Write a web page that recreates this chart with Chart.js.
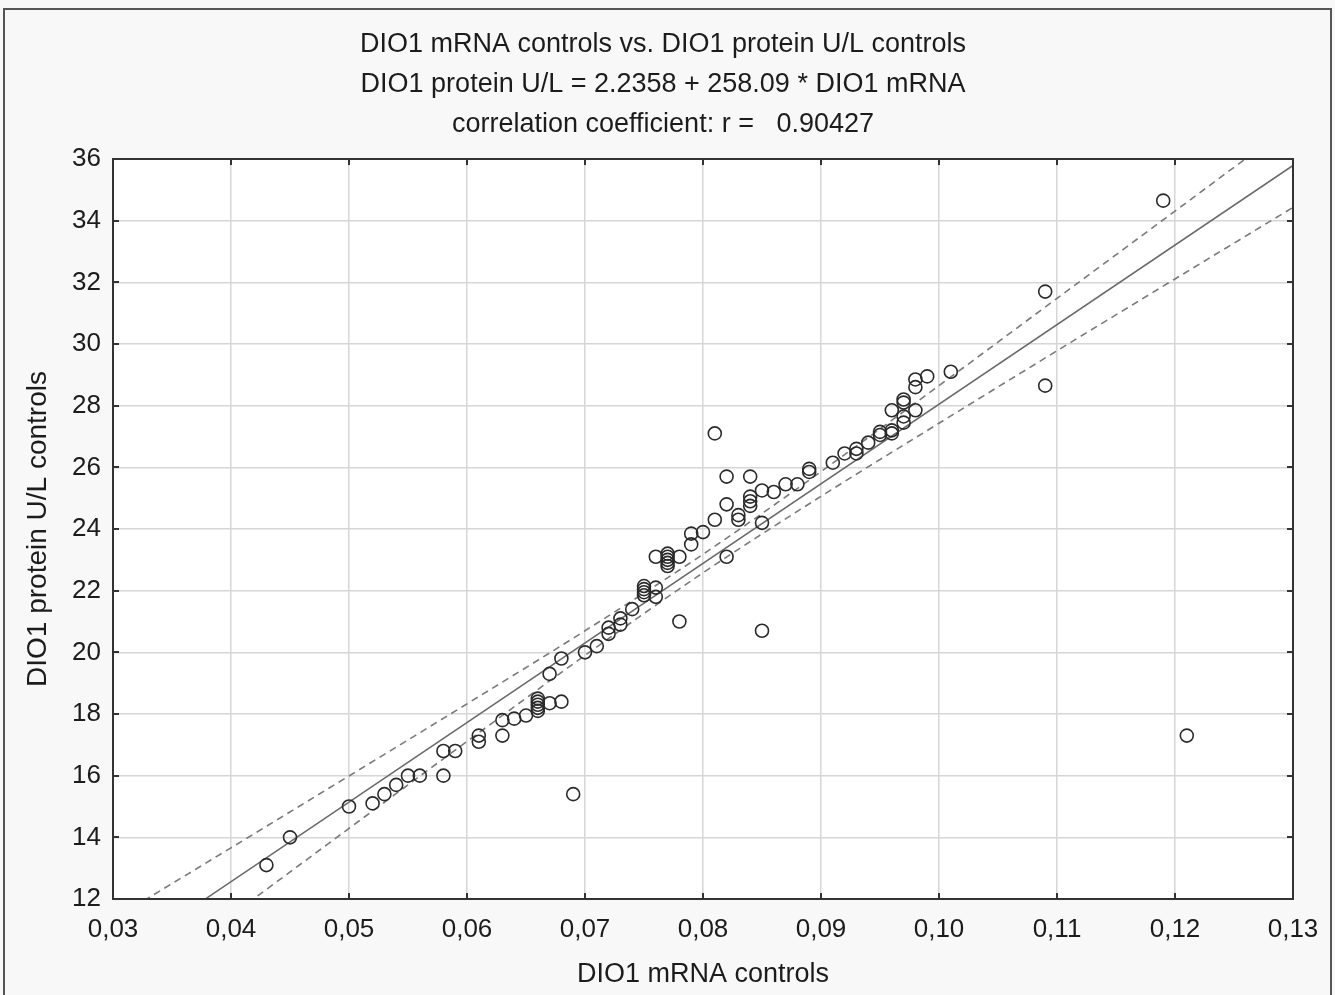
<!DOCTYPE html>
<html>
<head>
<meta charset="utf-8">
<title>DIO1 mRNA controls vs. DIO1 protein U/L controls</title>
<script src="https://cdn.jsdelivr.net/npm/chart.js@4/dist/chart.umd.min.js"></script>
<style>
  html, body { margin: 0; padding: 0; background: #f8f8f8; }
  #wrap { width: 1335px; height: 995px; }
</style>
</head>
<body>
<div id="wrap"><canvas id="dio1chart" width="1335" height="995"></canvas></div>
<script>
// title lines
const titleLines = [
  "DIO1 mRNA controls vs. DIO1 protein U/L controls",
  "DIO1 protein U/L = 2.2358 + 258.09 * DIO1 mRNA",
  "correlation coefficient: r =   0.90427",
];

const mrna = [
  0.043, 0.045, 0.050, 0.052, 0.053, 0.054, 0.055, 0.056, 0.058, 0.058,
  0.059, 0.061, 0.061, 0.063, 0.063, 0.064, 0.065, 0.066, 0.066, 0.066,
  0.066, 0.066, 0.067, 0.068, 0.067, 0.068, 0.069, 0.070, 0.071, 0.072,
  0.072, 0.073, 0.073, 0.074, 0.075, 0.075, 0.075, 0.075, 0.076, 0.076,
  0.076, 0.077, 0.077, 0.077, 0.077, 0.077, 0.078, 0.078, 0.079, 0.079,
  0.080, 0.081, 0.081, 0.082, 0.082, 0.082, 0.083, 0.083, 0.084, 0.084,
  0.084, 0.084, 0.085, 0.085, 0.085, 0.086, 0.087, 0.088, 0.089, 0.089,
  0.091, 0.092, 0.093, 0.093, 0.094, 0.095, 0.095, 0.096, 0.096, 0.096,
  0.097, 0.097, 0.097, 0.097, 0.098, 0.098, 0.098, 0.099, 0.101, 0.109,
  0.109, 0.119, 0.121,
];
const protein = [
  13.1, 14.0, 15.0, 15.1, 15.4, 15.7, 16.0, 16.0, 16.0, 16.8,
  16.8, 17.1, 17.3, 17.3, 17.8, 17.85, 17.95, 18.1, 18.2, 18.3,
  18.4, 18.5, 18.35, 18.4, 19.3, 19.8, 15.4, 20.0, 20.2, 20.6,
  20.8, 20.9, 21.1, 21.4, 21.85, 21.95, 22.05, 22.15, 22.1, 21.8,
  23.1, 22.8, 22.9, 23.0, 23.1, 23.2, 23.1, 21.0, 23.5, 23.85,
  23.9, 24.3, 27.1, 25.7, 24.8, 23.1, 24.45, 24.3, 25.7, 24.75,
  24.9, 25.05, 25.25, 24.2, 20.7, 25.2, 25.45, 25.45, 25.95, 25.85,
  26.15, 26.45, 26.6, 26.45, 26.8, 27.15, 27.05, 27.2, 27.85, 27.1,
  28.2, 28.1, 27.65, 27.45, 27.85, 28.6, 28.85, 28.95, 29.1, 31.7,
  28.65, 34.65, 17.3,
];

// regression line ends (from the equation in the title)
const fitX = [0.03, 0.13];
const fitY = [9.98, 35.79];

// 95% confidence band, read at each grid column
const bandX = [0.03, 0.04, 0.05, 0.06, 0.07, 0.08, 0.09, 0.10, 0.11, 0.12, 0.13];
const bandUpper = [11.34, 13.66, 15.99, 18.33, 20.70, 23.18, 25.86, 28.65, 31.48, 34.31, 37.15];
const bandLower = [8.62, 11.46, 14.29, 17.11, 19.90, 22.58, 25.06, 27.43, 29.78, 32.11, 34.43];

const FONT = '"Liberation Sans", Arial, sans-serif';
const ink = "#1c1c1c";

const toXY = (xs, ys) => xs.map((x, i) => ({ x: x, y: ys[i] }));

const framePlugin = {
  id: "frame",
  beforeDraw(chart) {
    const { ctx, chartArea: a } = chart;
    ctx.save();
    ctx.fillStyle = "#f8f8f8";
    ctx.fillRect(0, 0, chart.width, chart.height);
    ctx.fillStyle = "#ffffff";
    ctx.fillRect(a.left, a.top, a.right - a.left, a.bottom - a.top);
    ctx.strokeStyle = "#555";
    ctx.lineWidth = 2;
    ctx.strokeRect(4, 9, chart.width - 8, chart.height + 20);
    ctx.fillStyle = ink;
    ctx.font = "27px " + FONT;
    ctx.textAlign = "center";
    ctx.textBaseline = "middle";
    titleLines.forEach((t, i) => ctx.fillText(t, 663, 45 + i * 40));
    ctx.restore();
  },
  afterDraw(chart) {
    const { ctx, chartArea: a, scales } = chart;
    ctx.save();
    ctx.strokeStyle = "#333";
    ctx.lineWidth = 2;
    ctx.strokeRect(a.left, a.top, a.right - a.left, a.bottom - a.top);
    ctx.beginPath();
    scales.x.ticks.forEach((t) => {
      const px = Math.round(scales.x.getPixelForValue(t.value));
      ctx.moveTo(px, a.top); ctx.lineTo(px, a.top + 6);
      ctx.moveTo(px, a.bottom); ctx.lineTo(px, a.bottom - 6);
    });
    scales.y.ticks.forEach((t) => {
      const py = Math.round(scales.y.getPixelForValue(t.value));
      ctx.moveTo(a.left, py); ctx.lineTo(a.left + 6, py);
      ctx.moveTo(a.right, py); ctx.lineTo(a.right - 6, py);
    });
    ctx.stroke();
    ctx.restore();
  },
};

new Chart(document.getElementById("dio1chart"), {
  type: "scatter",
  data: {
    datasets: [
      {
        label: "controls",
        data: toXY(mrna, protein),
        pointStyle: "circle",
        pointRadius: 6.5,
        pointBorderWidth: 1.6,
        pointBorderColor: "#2a2a2a",
        pointBackgroundColor: "rgba(0,0,0,0)",
      },
      {
        label: "fit",
        type: "line",
        data: toXY(fitX, fitY),
        borderColor: "#6a6a6a",
        borderWidth: 1.5,
        pointRadius: 0,
        fill: false,
      },
      {
        label: "upper 95%",
        type: "line",
        data: toXY(bandX, bandUpper),
        borderColor: "#7a7a7a",
        borderWidth: 1.6,
        borderDash: [7, 5],
        pointRadius: 0,
        fill: false,
        cubicInterpolationMode: "monotone",
      },
      {
        label: "lower 95%",
        type: "line",
        data: toXY(bandX, bandLower),
        borderColor: "#7a7a7a",
        borderWidth: 1.6,
        borderDash: [7, 5],
        pointRadius: 0,
        fill: false,
        cubicInterpolationMode: "monotone",
      },
    ],
  },
  options: {
    responsive: false,
    animation: false,
    devicePixelRatio: 1,
    layout: { padding: { left: 10, right: 42, top: 159, bottom: 0 } },
    plugins: {
      legend: { display: false },
      tooltip: { enabled: false },
      title: { display: false },
    },
    scales: {
      x: {
        type: "linear",
        min: 0.03,
        max: 0.13,
        afterFit: (s) => { s.height = 96; },
        ticks: {
          stepSize: 0.01,
          padding: 15,
          color: ink,
          font: { family: FONT, size: 26 },
          callback: (v) => v.toFixed(2).replace(".", ","),
        },
        grid: { color: "#d6d6d6", lineWidth: 1.5, drawTicks: false },
        border: { display: false },
        title: {
          display: true,
          text: "DIO1 mRNA controls",
          color: ink,
          font: { family: FONT, size: 27 },
          padding: { top: 0, bottom: 4 },
        },
      },
      y: {
        type: "linear",
        min: 12,
        max: 36,
        afterFit: (s) => { s.width = 103; },
        ticks: {
          stepSize: 2,
          padding: 12,
          color: ink,
          font: { family: FONT, size: 26 },
        },
        grid: { color: "#d6d6d6", lineWidth: 1.5, drawTicks: false },
        border: { display: false },
        title: {
          display: true,
          text: "DIO1 protein U/L controls",
          color: ink,
          font: { family: FONT, size: 28 },
          padding: { top: 11, bottom: 0 },
        },
      },
    },
  },
  plugins: [framePlugin],
});
</script>
</body>
</html>
